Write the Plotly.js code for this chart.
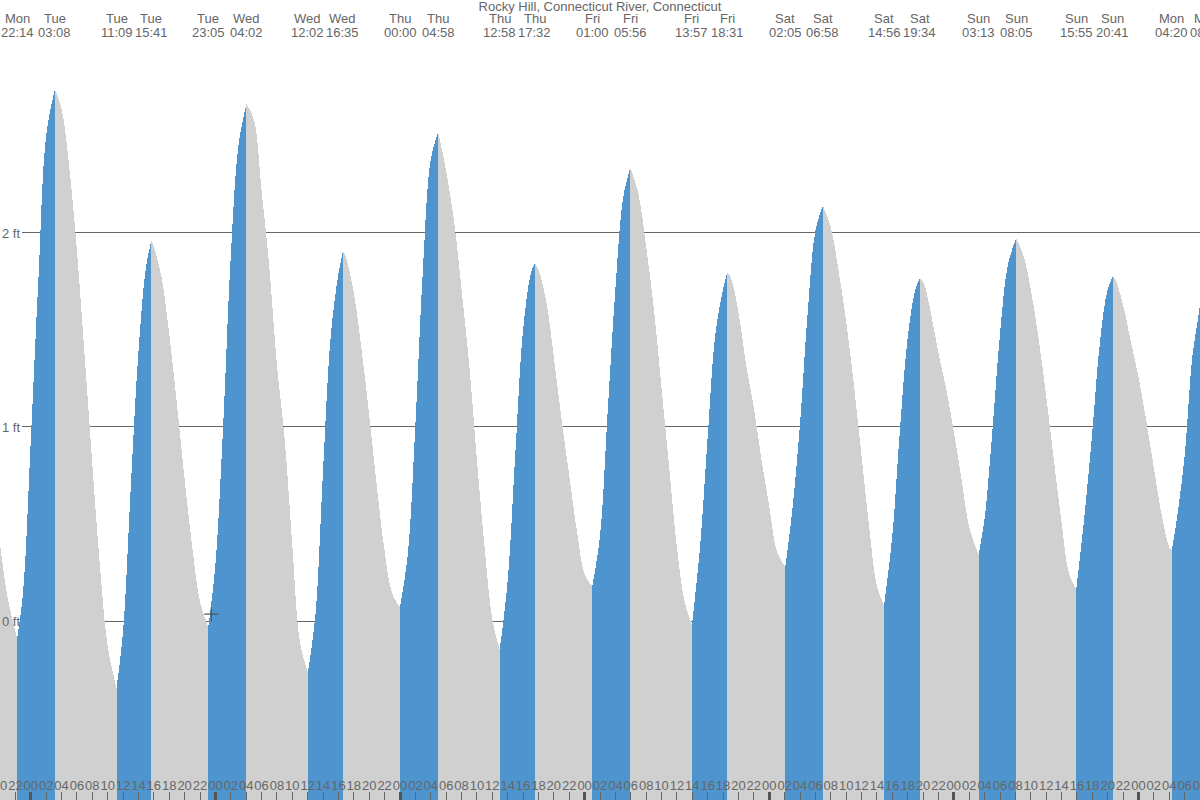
<!DOCTYPE html>
<html>
<head>
<meta charset="utf-8">
<script src="https://cdn.plot.ly/plotly-3.0.1.min.js"></script>
<style>
html, body { margin: 0; padding: 0; background: #ffffff; }
#chart { width: 1200px; height: 800px; }
#chart .js-fill, #chart .js-tonext { shape-rendering: crispEdges; }
#chart .shapelayer path { shape-rendering: crispEdges; }
</style>
</head>
<body>
<div id="chart"></div>
<script>
// ---------------- data ----------------
const chartTitle = 'Rocky Hill, Connecticut River, Connecticut';

// high / low water times (labels at top) and their heights in ft
const extremeTimes = [
  '2024-01-01 22:14', '2024-01-02 03:08', '2024-01-02 11:09', '2024-01-02 15:41',
  '2024-01-02 23:05', '2024-01-03 04:02', '2024-01-03 12:02', '2024-01-03 16:35',
  '2024-01-04 00:00', '2024-01-04 04:58', '2024-01-04 12:58', '2024-01-04 17:32',
  '2024-01-05 01:00', '2024-01-05 05:56', '2024-01-05 13:57', '2024-01-05 18:31',
  '2024-01-06 02:05', '2024-01-06 06:58', '2024-01-06 14:56', '2024-01-06 19:34',
  '2024-01-07 03:13', '2024-01-07 08:05', '2024-01-07 15:55', '2024-01-07 20:41',
  '2024-01-08 04:20', '2024-01-08 08:50'
];
const extremeDays = [
  'Mon', 'Tue', 'Tue', 'Tue', 'Tue', 'Wed', 'Wed', 'Wed',
  'Thu', 'Thu', 'Thu', 'Thu', 'Fri', 'Fri', 'Fri', 'Fri',
  'Sat', 'Sat', 'Sat', 'Sat', 'Sun', 'Sun', 'Sun', 'Sun',
  'Mon', 'Mon'
];
const extremeHeights = [
  -0.09, 2.74, -0.345, 1.96,
  -0.03, 2.665, -0.263, 1.906,
  0.072, 2.52, -0.147, 1.847,
  0.179, 2.336, -0.02, 1.796,
  0.277, 2.14, 0.082, 1.766,
  0.342, 1.973, 0.165, 1.776,
  0.363, 1.98
];

// water level read hourly, starting Mon 20:00
const sampleStart = '2024-01-01 20:00';
const hourlyHeights = [
  0.40, 0.12, -0.07, 0.15,                                   // Mon 20-23
  0.93, 1.77, 2.50, 2.73, 2.64, 2.34, 1.91, 1.37, 0.81, 0.28, -0.13, -0.34,   // Tue 00-11
  -0.05, 0.69, 1.39, 1.83, 1.93, 1.77, 1.48, 1.12, 0.73, 0.38, 0.10, -0.025,  // Tue 12-23
  0.29, 1.00, 1.88, 2.45, 2.66, 2.585, 2.22, 1.83, 1.32, 0.94, 0.39, -0.11,   // Wed 00-11
  -0.26, 0.03, 0.78, 1.47, 1.79, 1.87, 1.69, 1.40, 1.06, 0.69, 0.36, 0.14,    // Wed 12-23
  0.072, 0.34, 1.01, 1.83, 2.38, 2.52, 2.32, 2.07, 1.71, 1.32, 0.83, 0.38,    // Thu 00-11
  0.01, -0.145, 0.21, 0.87, 1.50, 1.79, 1.81, 1.65, 1.36, 1.04, 0.75, 0.465,  // Thu 12-23
  0.24, 0.179, 0.44, 1.08, 1.71, 2.18, 2.33, 2.20, 1.93, 1.61, 1.20, 0.79,    // Fri 00-11
  0.38, 0.10, -0.02, 0.38, 0.95, 1.48, 1.71, 1.77, 1.59, 1.32, 1.10, 0.83,    // Fri 12-23
  0.59, 0.36, 0.28, 0.57, 1.015, 1.59, 2.01, 2.14, 2.03, 1.81, 1.545, 1.22,   // Sat 00-11
  0.85, 0.485, 0.18, 0.10, 0.44, 0.99, 1.46, 1.71, 1.75, 1.59, 1.38, 1.20,    // Sat 12-23
  0.975, 0.73, 0.485, 0.35, 0.53, 0.975, 1.48, 1.83, 1.97, 1.89, 1.71, 1.46,  // Sun 00-11
  1.16, 0.83, 0.51, 0.24, 0.17, 0.55, 0.975, 1.44, 1.71, 1.76, 1.63, 1.44,    // Sun 12-23
  1.26, 1.035, 0.79, 0.55, 0.38, 0.53, 0.85, 1.36, 1.63                       // Mon 00-08
];

const yTickVals = [0, 1, 2];
const yTickText = ['0 ft', '1 ft', '2 ft'];

// small "+" marker
const markTime = ['2024-01-02 23:28'];
const markHeight = [0.035];

// ---------------- styling ----------------
const BLUE = '#4e94ce';
const GREY = '#d0d0d0';
const TEXT = '#666666';
const FONT = 'Arial, "Liberation Sans", sans-serif';
const FS = 13;
const X_RANGE = ['2024-01-01 20:00', '2024-01-08 08:00'];
const Y_RANGE = [-0.9227, 2.9845];
const BASE = -1.5;

// ---------------- build ----------------
const HOUR = 3600000;
function toMs(s) {
  const [d, t] = s.split(' ');
  const [Y, M, D] = d.split('-').map(Number);
  const [h, m] = t.split(':').map(Number);
  return Date.UTC(Y, M - 1, D, h, m);
}
const xMin = toMs(X_RANGE[0]), xMax = toMs(X_RANGE[1]);
const ext = extremeTimes.map((t, i) => ({ t: toMs(t), y: extremeHeights[i] }));
const startMs = toMs(sampleStart);
const samples = hourlyHeights.map((v, i) => ({ t: startMs + i * HOUR, y: v }));

// boundaries: first sample, then each high/low
const bounds = [samples[0]].concat(ext);
const traces = [];
const GAP = 0.25 * HOUR;
for (let i = 0; i < bounds.length - 1; i++) {
  const a = bounds[i], b = bounds[i + 1];
  const pts = [a];
  samples.forEach(s => {
    if (s.t > a.t + (i === 0 ? 0 : GAP) && s.t < b.t - GAP) pts.push(s);
  });
  pts.push(b);
  const rising = b.y > a.y;
  traces.push({
    x: [a.t, b.t], y: [BASE, BASE], mode: 'lines', line: { width: 0 },
    hoverinfo: 'skip', showlegend: false, xaxis: 'x', yaxis: 'y'
  });
  traces.push({
    x: pts.map(p => p.t), y: pts.map(p => p.y), mode: 'lines',
    line: { width: 0, shape: 'spline', smoothing: 1 },
    fill: 'tonexty', fillcolor: rising ? BLUE : GREY,
    hoverinfo: 'skip', showlegend: false, xaxis: 'x', yaxis: 'y'
  });
}
// marker
traces.push({
  x: markTime.map(toMs), y: markHeight, mode: 'markers',
  marker: { symbol: 'cross-thin', size: 10, line: { color: '#555555', width: 1.2 } },
  hoverinfo: 'skip', showlegend: false
});
// helper traces for the tick-only axes
['x2', 'x3'].forEach(ax => traces.push({
  x: ext.map(e => e.t), y: ext.map(() => null), mode: 'lines',
  xaxis: ax, yaxis: 'y', hoverinfo: 'skip', showlegend: false
}));

const annotations = [];
ext.forEach((e, i) => {
  const clock = extremeTimes[i].slice(11, 16);
  const inside = e.t >= xMin && e.t <= xMax;
  const pos = inside ? { x: e.t, xref: 'x' } : { x: (e.t - xMin) / (xMax - xMin), xref: 'x domain' };
  annotations.push(Object.assign({
    y: 1, yref: 'paper', yshift: 24, text: extremeDays[i],
    showarrow: false, xanchor: 'center', yanchor: 'middle',
    font: { family: FONT, size: FS, color: TEXT }
  }, pos));
  annotations.push(Object.assign({
    y: 1, yref: 'paper', yshift: 9.5, text: clock,
    showarrow: false, xanchor: 'center', yanchor: 'middle',
    font: { family: FONT, size: FS, color: TEXT }
  }, pos));
});

const shapes = yTickVals.map(v => ({
  type: 'line', xref: 'paper', x0: 0.0185, x1: 1, yref: 'y', y0: v, y1: v,
  layer: 'below', line: { color: '#666666', width: 1 }
}));

const layout = {
  width: 1200, height: 800,
  margin: { l: 0, r: 0, t: 42, b: 0, pad: 0 },
  paper_bgcolor: '#ffffff', plot_bgcolor: '#ffffff',
  showlegend: false, hovermode: false,
  font: { family: FONT, size: FS, color: TEXT },
  title: {
    text: chartTitle, x: 0.5, xanchor: 'center', xref: 'paper',
    y: 1 - 6.5 / 800, yanchor: 'middle', yref: 'container',
    font: { family: FONT, size: FS, color: TEXT }
  },
  // hour labels (free axis placed just above the tick marks)
  xaxis: {
    type: 'date', range: X_RANGE, fixedrange: true,
    anchor: 'free', position: 24 / 758,
    tick0: '2024-01-01 00:00', dtick: 2 * HOUR, tickformat: '%H', tickangle: 0,
    ticks: '', ticklabelposition: 'outside', ticklabelstandoff: 0,
    ticklabeloverflow: 'allow',
    tickfont: { family: FONT, size: FS, color: TEXT },
    showgrid: false, zeroline: false, showline: false
  },
  // 2-hour tick marks
  xaxis2: {
    type: 'date', range: X_RANGE, overlaying: 'x', anchor: 'y', side: 'bottom',
    tick0: '2024-01-01 00:00', dtick: 2 * HOUR,
    ticks: 'inside', ticklen: 8, tickwidth: 1, tickcolor: '#666666',
    showticklabels: false, showgrid: false, zeroline: false, showline: false, fixedrange: true
  },
  // day tick marks
  xaxis3: {
    type: 'date', range: X_RANGE, overlaying: 'x', anchor: 'y', side: 'bottom',
    tick0: '2024-01-01 00:00', dtick: 24 * HOUR,
    ticks: 'inside', ticklen: 8, tickwidth: 3, tickcolor: '#555555',
    showticklabels: false, showgrid: false, zeroline: false, showline: false, fixedrange: true
  },
  // ft labels: right-side axis placed at the left edge so labels sit inside the plot
  yaxis: {
    range: Y_RANGE, fixedrange: true,
    side: 'right', anchor: 'free', position: 0,
    tickvals: yTickVals, ticktext: yTickText,
    ticks: '', ticklabelposition: 'outside', ticklabelstandoff: 1,
    tickfont: { family: FONT, size: FS, color: TEXT },
    showgrid: false, zeroline: false, showline: false
  },
  annotations: annotations,
  shapes: shapes
};

Plotly.newPlot('chart', traces, layout, { staticPlot: true, displayModeBar: false });
</script>
</body>
</html>
